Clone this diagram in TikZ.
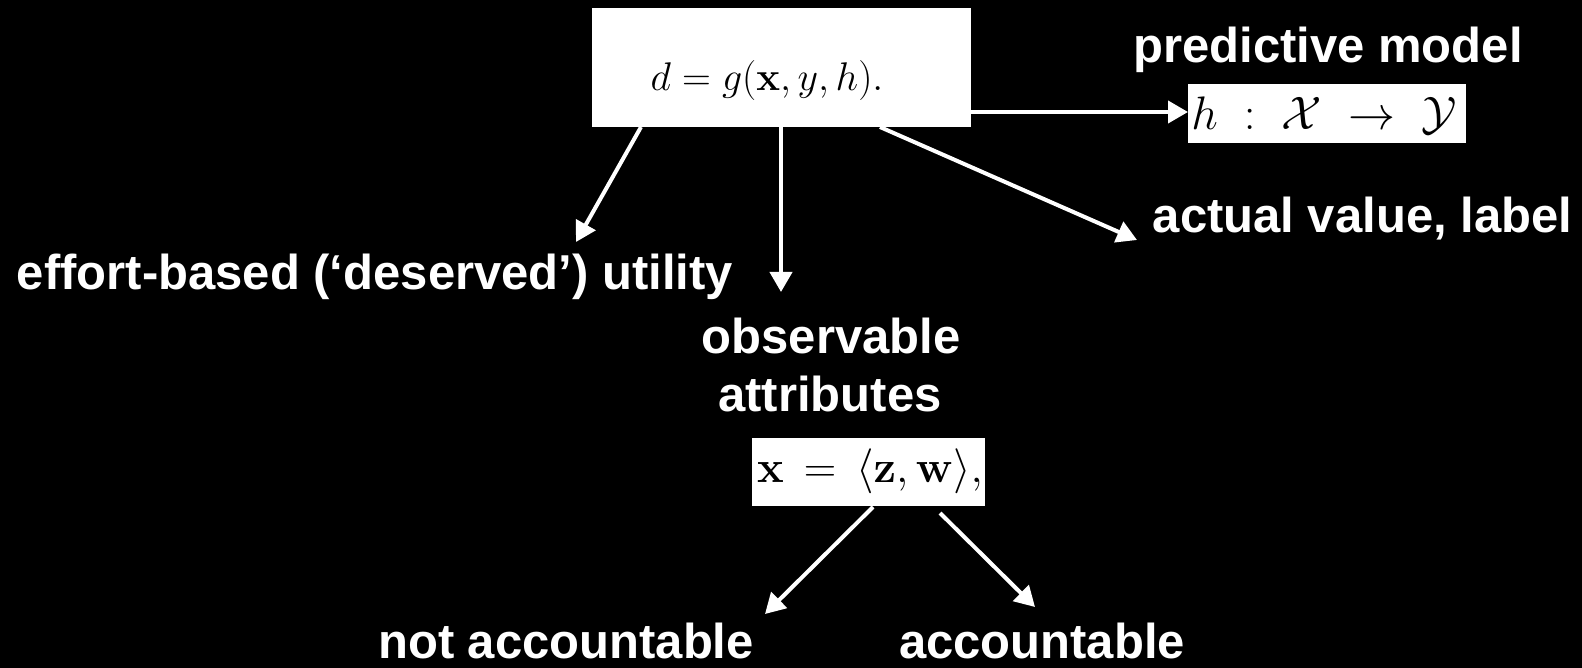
\RequirePackage{fix-cm}
\documentclass[tikz,border=0pt]{standalone}
\usepackage[no-math]{fontspec}
\newfontfamily\labfont{Liberation Sans}
\usetikzlibrary{arrows.meta}
\tikzset{
  lab/.style={text=white, font=\labfont\bfseries\fontsize{49}{58}\selectfont, inner sep=0pt, anchor=base},
  wbox/.style={fill=white, draw=none, inner sep=0pt},
  mtext/.style={text=black, inner sep=0pt, anchor=base},
  conn/.style={draw=white, line width=4pt, -{Triangle[length=20pt,width=22pt]}},
}
\begin{document}
\begin{tikzpicture}[x=1pt,y=-1pt]
\useasboundingbox (0,0) rectangle (1582,668);
\fill[black] (0,0) rectangle (1582,668);

% top box
\node[wbox, minimum width=379pt, minimum height=119pt] (g) at (781.5,67.5) {};
\node[mtext, font=\fontsize{40}{46}\selectfont] (gt) at (767,91) {$d = g(\mathbf{x}, y, h).$};

% predictive model
\node[lab] (pm) at (1328,63) {predictive model};
\node[wbox, minimum width=278pt, minimum height=59pt] (hb) at (1327,113.5) {};
\node[mtext, font=\fontsize{47}{52}\selectfont] (ht) at (1324,130) {$h \;:\; \mathcal{X} \;\to\; \mathcal{Y}$};

% labels
\node[lab] (av) at (1362.5,233) {actual value, label};
\node[lab] (eb) at (375,290) {effort-based (‘deserved’) utility};
\node[lab] (ob1) at (831,353) {observable};
\node[lab] (ob2) at (830,411) {attributes};

% x box
\node[wbox, minimum width=233pt, minimum height=68pt] (xb) at (868.5,472) {};
\node[mtext, font=\fontsize{45}{50}\selectfont] (xt) at (870,482) {$\mathbf{x} \,=\, \langle\mathbf{z}, \mathbf{w}\rangle,$};

\node[lab] (na) at (566,658) {not accountable};
\node[lab] (ac) at (1042,658) {accountable};

% connector endpoints
\coordinate (s1) at (641,127);
\coordinate (t1) at (576,242);
\coordinate (s2) at (781,127);
\coordinate (t2) at (781,292);
\coordinate (s3) at (880,127);
\coordinate (t3) at (1137,240);
\coordinate (s4) at (971,112);
\coordinate (t4) at (1188,112);
\coordinate (s5) at (873,507);
\coordinate (t5) at (765,614);
\coordinate (s6) at (940,513);
\coordinate (t6) at (1035,607);

\draw[conn] (s1) -- (t1);
\draw[conn] (s2) -- (t2);
\draw[conn] (s3) -- (t3);
\draw[conn] (s4) -- (t4);
\draw[conn] (s5) -- (t5);
\draw[conn] (s6) -- (t6);
\end{tikzpicture}
\end{document}
